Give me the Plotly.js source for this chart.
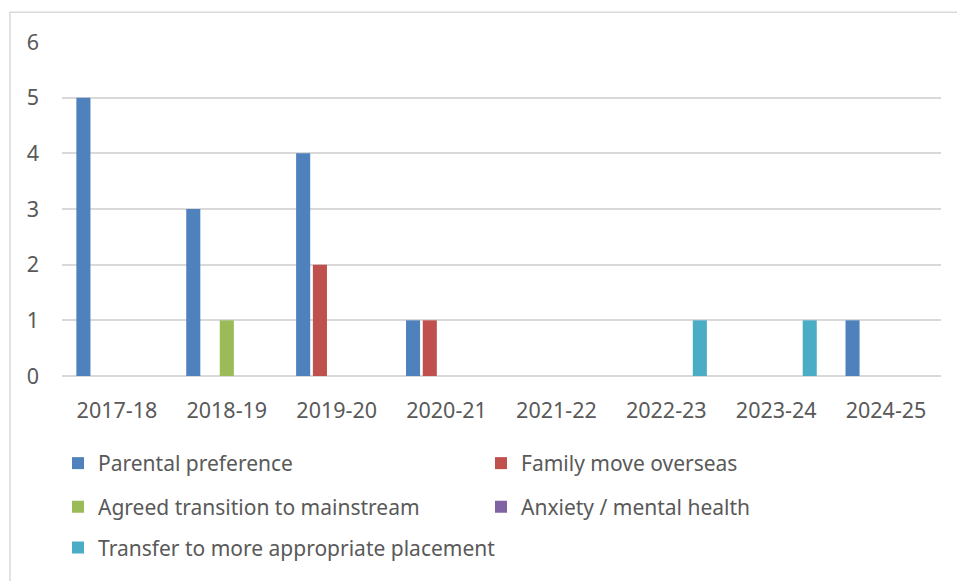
<!DOCTYPE html>
<html>
<head>
<meta charset="utf-8">
<script src="https://cdn.plot.ly/plotly-3.0.1.min.js"></script>
<style>html,body{margin:0;padding:0;background:#fff;}#chart{width:957px;height:581px;}</style>
</head>
<body>
<div id="chart"></div>
<script>
var categories = ["2017-18","2018-19","2019-20","2020-21","2021-22","2022-23","2023-24","2024-25"];
var seriesNames = ["Parental preference","Family move overseas","Agreed transition to mainstream","Anxiety / mental health","Transfer to more appropriate placement"];
var parentalPreference = [5,3,4,1,0,0,0,1];
var familyMoveOverseas = [0,0,2,1,0,0,0,0];
var agreedTransition = [0,1,0,0,0,0,0,0];
var anxietyMentalHealth = [0,0,0,0,0,0,0,0];
var transferPlacement = [0,0,0,0,0,1,1,0];
var yTicks = [0,1,2,3,4,5,6];

var colors = ["#4F81BD","#C0504D","#9BBB59","#8064A2","#4BACC6"];
var values = [parentalPreference, familyMoveOverseas, agreedTransition, anxietyMentalHealth, transferPlacement];
var legendIds = ["legend","legend","legend2","legend2","legend3"];

var W = 957, H = 581;
var mL = 62, mR = 16, mT = 42, mB = 203;
var pw = W - mL - mR, ph = H - mT - mB;
function px(x){ return (x - mL) / pw; }
function py(y){ return (H - mB - y) / ph; }

var FONT = "Noto Sans, Open Sans, sans-serif";
var traces = values.map(function(v, i){
  return {
    type: "bar", x: categories, y: v, name: seriesNames[i],
    legend: legendIds[i],
    marker: {color: colors[i], line: {color: "rgba(255,255,255,0)", width: 0}},
    hoverinfo: "x+y+name"
  };
});

var legendBase = {
  orientation: "h", xanchor: "left", yanchor: "middle",
  font: {family: FONT, size: 21, color: "#595959"},
  entrywidth: 378, entrywidthmode: "pixels",
  bgcolor: "rgba(0,0,0,0)", itemclick: false, itemdoubleclick: false,
  traceorder: "normal"
};
function leg(xPix, yPix, ew){
  var o = Object.assign({}, legendBase);
  o.x = px(xPix); o.y = py(yPix);
  if (ew) o.entrywidth = ew;
  return o;
}

var layout = {
  width: W, height: H,
  margin: {l: mL, r: mR, t: mT, b: mB, pad: 0},
  paper_bgcolor: "#fff", plot_bgcolor: "#fff",
  barmode: "group", bargap: 0.237, bargroupgap: 0.16,
  font: {family: FONT, color: "#595959", size: 21},
  xaxis: {
    type: "category", showgrid: false, showline: false, zeroline: false,
    ticks: "", tickfont: {family: FONT, size: 21.5, color: "#595959"},
    ticklabelstandoff: 19, fixedrange: true
  },
  yaxis: {
    range: [0, 6], tickvals: yTicks, showgrid: true, gridcolor: "#D9D9D9", gridwidth: 1.5,
    zeroline: true, zerolinecolor: "#D9D9D9", zerolinewidth: 1.5, showline: false,
    ticks: "", tickfont: {family: FONT, size: 21.5, color: "#595959"},
    ticklabelstandoff: 22, fixedrange: true
  },
  legend: leg(58, 466),
  legend2: leg(58, 510),
  legend3: leg(58, 551, 520),
  shapes: [{
    type: "rect", xref: "paper", yref: "paper",
    x0: px(10), x1: px(W + 5), y0: py(H + 5), y1: py(12),
    line: {color: "#D9D9D9", width: 1.5}, fillcolor: "rgba(0,0,0,0)", layer: "below"
  }]
};

Plotly.newPlot("chart", traces, layout, {displayModeBar: false});
</script>
</body>
</html>
